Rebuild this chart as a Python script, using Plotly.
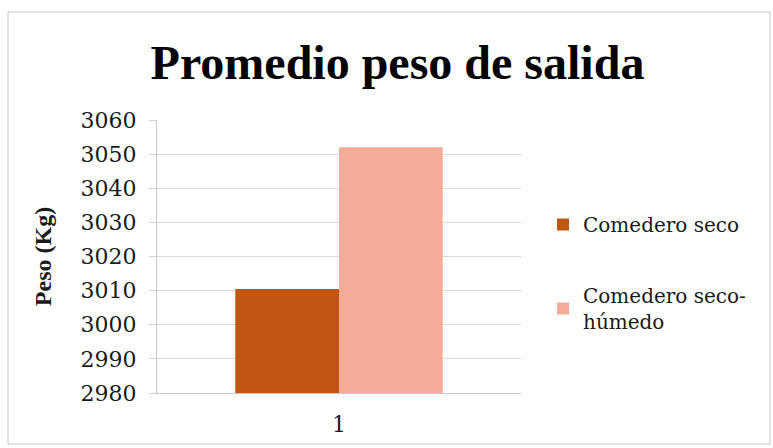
import plotly.graph_objects as go

categories = ["1"]
series_names = ["Comedero seco", "Comedero seco-<br>húmedo"]
values_seco = [3010.5]
values_humedo = [3052]
colors = ["#C0560F", "#F4AC98"]
y_ticks = [2980, 2990, 3000, 3010, 3020, 3030, 3040, 3050, 3060]

W, H = 773, 448
L, R, T, B = 157, 252, 120, 55
pw, ph = W - L - R, H - T - B

def px_x(p):
    return (p - L) / pw

def px_y(p):
    return (H - B - p) / ph

fig = go.Figure()
fig.add_trace(go.Bar(x=categories, y=values_seco, name=series_names[0],
                     marker=dict(color=colors[0], line=dict(width=0)), legendgroup="a"))
fig.add_trace(go.Bar(x=categories, y=values_humedo, name=series_names[1],
                     marker=dict(color=colors[1], line=dict(width=0)), legendgroup="b"))

serif_b = "Liberation Serif"
serif_r = "DejaVu Serif"
txt = "#1a1a1a"
fig.update_layout(
    width=W, height=H,
    margin=dict(l=L, r=R, t=T, b=B, autoexpand=False),
    paper_bgcolor="white", plot_bgcolor="white",
    barmode="group", bargap=0.43, bargroupgap=0,
    title=dict(text="<b>Promedio peso de salida</b>", x=397.5 / W, xanchor="center",
               xref="container",
               y=1 - 62 / H, yanchor="middle", yref="container",
               font=dict(family=serif_b, size=48, color="black")),
    font=dict(family=serif_r, color=txt),
    legend=dict(x=px_x(543), y=px_y(205), xanchor="left", yanchor="top",
                font=dict(family=serif_r, size=20, color=txt),
                traceorder="grouped", tracegroupgap=42,
                itemwidth=30, bgcolor="rgba(0,0,0,0)"),
    showlegend=True,
    shapes=[dict(type="rect", xref="paper", yref="paper",
                 x0=px_x(8), x1=px_x(770), y0=px_y(444), y1=px_y(12),
                 line=dict(color="#c8c8c8", width=1), layer="below")],
)
fig.update_yaxes(range=[2980, 3060], tickvals=y_ticks, showgrid=True, gridcolor="#d9d9d9",
                 gridwidth=1, showline=True, linecolor="#c8c8c8", linewidth=1,
                 ticks="outside", tickcolor="#d0d0d0", ticklen=7, ticklabelstandoff=8,
                 tickfont=dict(family=serif_r, size=22, color=txt),
                 title=dict(text="<b>Peso (Kg)</b>", font=dict(family=serif_b, size=24, color=txt), standoff=22),
                 zeroline=False)
fig.update_xaxes(showline=True, linecolor="#c8c8c8", linewidth=1, showgrid=False,
                 ticks="outside", ticklen=12, tickcolor="rgba(0,0,0,0)",
                 tickfont=dict(family=serif_r, size=22, color=txt))

fig.write_html("out.html")
